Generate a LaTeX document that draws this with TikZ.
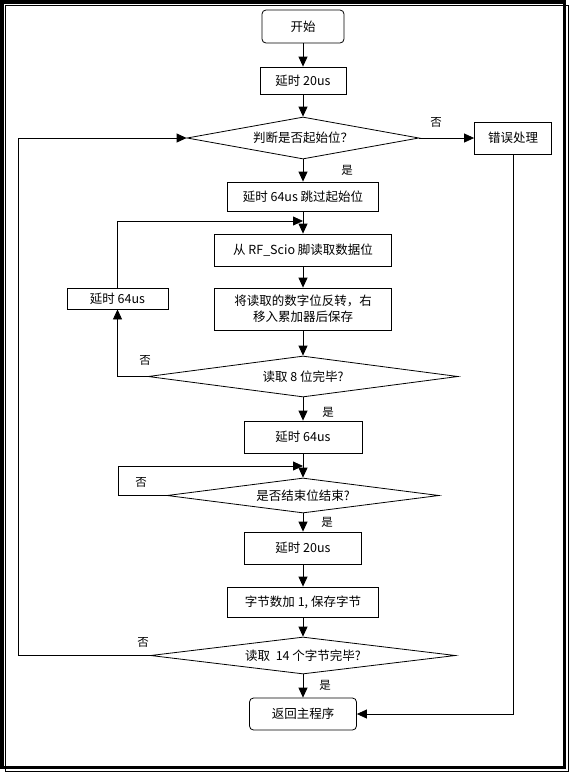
\documentclass[tikz,border=0pt]{standalone}
\usepackage{fontspec}
\setmainfont{Noto Sans CJK SC}
\usetikzlibrary{shapes.geometric, arrows.meta}

\begin{document}
\begin{tikzpicture}[x=1pt, y=-1pt, line width=0.8pt,
    every node/.style={font=\fontsize{12.5}{16}\selectfont},
    box/.style={draw, rectangle, inner sep=0pt},
    term/.style={draw, rectangle, rounded corners=4pt, inner sep=0pt},
    cond/.style={draw, diamond, aspect=6, inner sep=0pt},
    lbl/.style={font=\fontsize{11.5}{14}\selectfont},
    flow/.style={-{Triangle[length=10pt, width=9pt]}}]
    \useasboundingbox (0,0) rectangle (569,772);
    \draw[line width=3.5pt] (1.75,1.75) rectangle (564.5,767.5);
    \draw[line width=1pt] (5.5,5.5) rectangle (568.5,771.5);

    \node[term, minimum width=82pt, minimum height=33pt] (start) at (303,26.5) {开始};
    \node[box, minimum width=86pt, minimum height=27pt] (d20a) at (303,80.5) {延时 20us};
    \node[cond, minimum width=232pt, minimum height=42pt] (chk) at (303,138) {判断是否起始位？};
    \node[box, minimum width=77pt, minimum height=32pt] (err) at (513,138) {错误处理};
    \node[box, minimum width=151pt, minimum height=29pt] (skip) at (303,196.5) {延时 64us 跳过起始位};
    \node[box, minimum width=177pt, minimum height=32pt] (read) at (303,250) {从 RF\_Scio 脚读取数据位};
    \node[box, minimum width=177pt, minimum height=42pt, align=center] (shift) at (303,309)
        {将读取的数字位反转，右\\移入累加器后保存};
    \node[box, minimum width=101pt, minimum height=21pt] (d64a) at (117.5,298.5) {延时 64us};
    \node[cond, minimum width=310pt, minimum height=41pt] (cnt8) at (303,376.5) {读取 8 位完毕?};
    \node[box, minimum width=118pt, minimum height=32pt] (d64b) at (303,437) {延时 64us};
    \node[cond, minimum width=272pt, minimum height=35pt] (stopb) at (303,495.5) {是否结束位结束?};
    \node[box, minimum width=117pt, minimum height=32pt] (d20b) at (303,548) {延时 20us};
    \node[box, minimum width=151pt, minimum height=30pt] (inc) at (303,602) {字节数加 1, 保存字节};
    \node[cond, minimum width=305pt, minimum height=37pt] (cnt14) at (303,655.5) {读取 \ 14 个字节完毕?};
    \node[term, minimum width=107pt, minimum height=32pt] (ret) at (303,714) {返回主程序};

    \coordinate (j1) at (303,221);
    \coordinate (j2) at (303,466);
    \coordinate (k2) at (118,495.5);
    \coordinate (k3) at (18,655.5);

    \node[lbl] (no1) at (436,122) {否};
    \node[lbl] (yes1) at (347,170) {是};
    \node[lbl] (no2) at (145,360) {否};
    \node[lbl] (yes2) at (328,412) {是};
    \node[lbl] (no3) at (141,482) {否};
    \node[lbl] (yes3) at (327,522) {是};
    \node[lbl] (no4) at (143,642) {否};
    \node[lbl] (yes4) at (325,685) {是};

    \draw[flow] (start) -- (d20a);
    \draw[flow] (d20a) -- (chk);
    \draw[flow] (chk) -- (err);
    \draw[flow] (chk) -- (skip);
    \draw[flow] (skip) -- (read);
    \draw[flow] (read) -- (shift);
    \draw[flow] (shift) -- (cnt8);
    \draw[flow] (cnt8.west) -| (d64a.south);
    \draw[flow] (d64a.north) |- (j1);
    \draw[flow] (cnt8) -- (d64b);
    \draw[flow] (d64b) -- (stopb);
    \draw[flow] (stopb.west) -- (k2) |- (j2);
    \draw[flow] (stopb) -- (d20b);
    \draw[flow] (d20b) -- (inc);
    \draw[flow] (inc) -- (cnt14);
    \draw[flow] (cnt14.west) -- (k3) |- (chk.west);
    \draw[flow] (cnt14) -- (ret);
    \draw[flow] (err.south) |- (ret.east);
\end{tikzpicture}
\end{document}
